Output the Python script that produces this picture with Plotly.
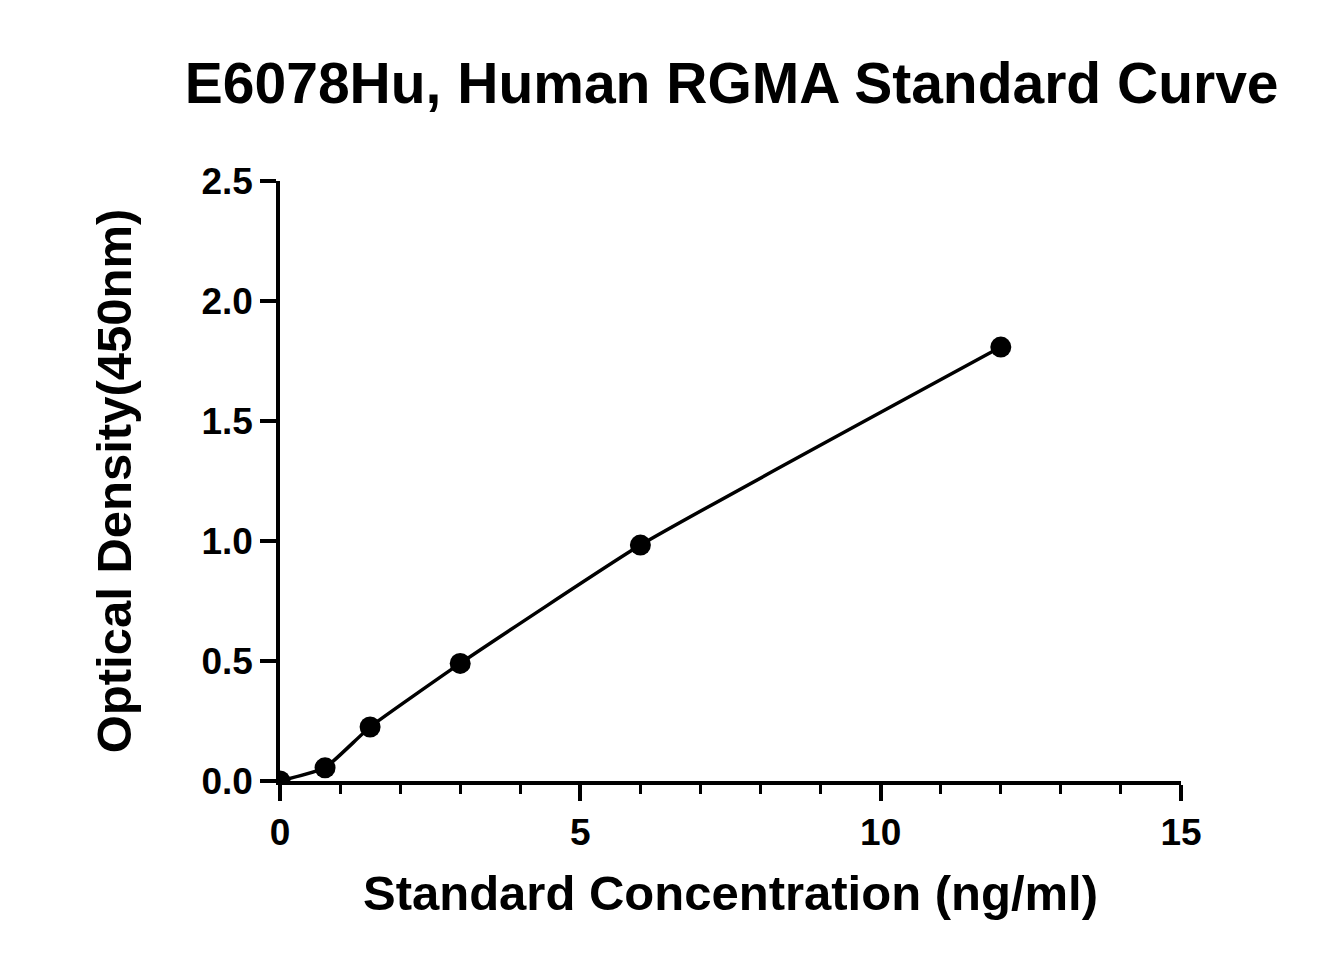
import plotly.graph_objects as go

# standard concentrations (ng/ml) and measured OD at 450nm
conc = [0, 0.75, 1.5, 3, 6, 12]
od = [0.0, 0.055, 0.225, 0.49, 0.983, 1.808]

font = "Liberation Sans, Arial, sans-serif"

fig = go.Figure()
fig.add_trace(go.Scatter(x=conc, y=od, mode="lines", line=dict(color="black", width=3.5, shape="spline", smoothing=0.4),
                         hoverinfo="skip"))
fig.add_trace(go.Scatter(x=conc, y=od, mode="markers", marker=dict(color="black", size=21)))

fig.update_layout(
    width=1323, height=975,
    paper_bgcolor="white", plot_bgcolor="white",
    showlegend=False,
    margin=dict(l=272, r=150, t=173, b=202, autoexpand=False),
    title=dict(text="<b>E6078Hu, Human RGMA Standard Curve</b>", x=0.547, xanchor="center",
               y=0.923, yanchor="middle", font=dict(family=font, size=57, color="black")),
    font=dict(family=font, color="black"),
)
fig.update_xaxes(range=[0, 15], tickvals=[0, 5, 10, 15], showgrid=False, zeroline=False,
                 showline=True, linecolor="black", linewidth=3.5, automargin=False,
                 ticks="outside", ticklen=16, tickwidth=3.5, tickcolor="black",
                 minor=dict(dtick=1, ticks="outside", ticklen=9, tickwidth=3, tickcolor="black"),
                 tickfont=dict(size=37, family=font, weight="bold"),
                 title=dict(text="<b>Standard Concentration (ng/ml)</b>", font=dict(size=49), standoff=25))
fig.update_yaxes(range=[0, 2.5], tickvals=[0, 0.5, 1, 1.5, 2, 2.5], tickformat=".1f", showgrid=False, zeroline=False,
                 showline=True, linecolor="black", linewidth=3.5, automargin=False,
                 ticks="outside", ticklen=16, tickwidth=3.5, tickcolor="black",
                 tickfont=dict(size=37, family=font, weight="bold"),
                 title=dict(text="<b>Optical Density(450nm)</b>", font=dict(size=49), standoff=55))

fig.write_html("out.html")
